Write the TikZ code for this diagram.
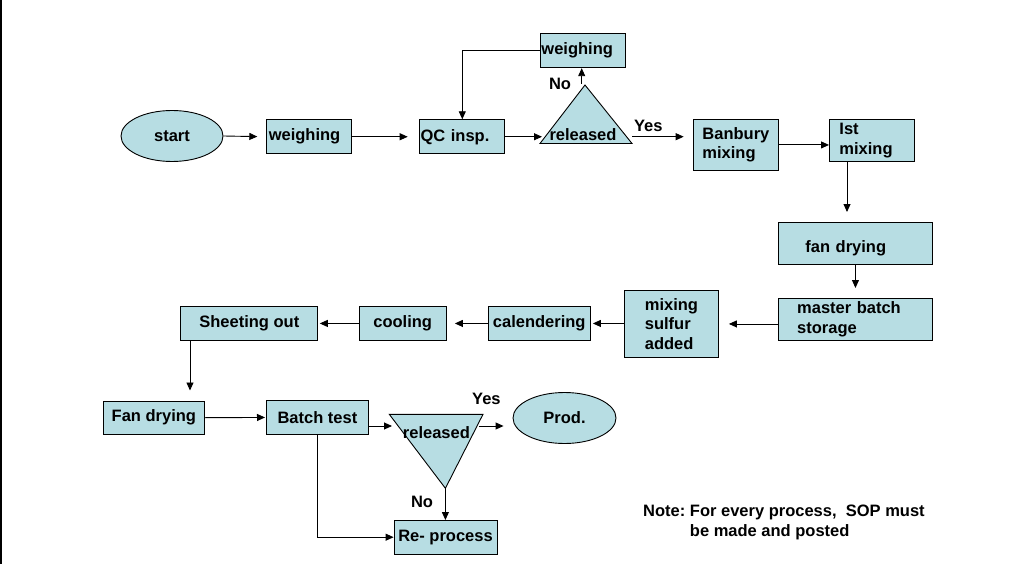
\documentclass[tikz,border=0pt]{standalone}
\usepackage{fontspec}
\setmainfont{Liberation Sans}
\usetikzlibrary{arrows.meta,shapes.geometric}
\definecolor{boxfill}{RGB}{183,221,227}
\begin{document}
\begin{tikzpicture}[x=1pt,y=-1pt,
 font=\fontsize{16.5}{19.5}\selectfont\bfseries,
 pbox/.style={draw=black, line width=0.9pt, fill=boxfill, inner sep=0pt, anchor=north west, align=left},
 oval/.style={ellipse, draw=black, line width=0.9pt, fill=boxfill, inner sep=0pt},
 tri/.style={draw=black, line width=0.9pt, fill=boxfill},
 arr/.style={line width=0.9pt, -{Triangle[length=8pt,width=7pt]}},
 lbl/.style={inner sep=0pt}
]
\useasboundingbox (0,0) rectangle (1024,564);
\fill[white] (0,0) rectangle (1024,564);
\fill[black] (0,0) rectangle (1.6,564);

% top row
\node[oval, minimum width=102pt, minimum height=51pt] (start) at (172,136) {start};
\node[pbox, minimum width=85pt, minimum height=34pt, text width=81pt, inner xsep=2pt] (w1) at (266.3,119.3) {weighing};
\node[pbox, minimum width=84.7pt, minimum height=34pt, text width=82.7pt, inner xsep=1pt] (qc) at (419.2,119.3) {QC insp.};
\node[pbox, minimum width=85pt, minimum height=34pt, text width=82pt, inner xsep=1.5pt] (wtop) at (539.5,33.3) {weighing};
\node[pbox, minimum width=85.5pt, minimum height=51pt] (banbury) at (692.7,119) {Banbury\\mixing};
\node[pbox, minimum width=85pt, minimum height=42pt, text width=65pt, inner xsep=10pt] (ist) at (829,119) {Ist\\mixing};

% triangle 1
\coordinate (t1a) at (585,85);
\coordinate (t1l) at (540,143.5);
\coordinate (t1r) at (632,143.5);
\filldraw[tri] (t1a) -- (t1r) -- (t1l) -- cycle;
\node[lbl] (rel1) at (583,135) {released};
\node[lbl] (no1) at (560,84) {No};
\node[lbl] (yes1) at (648.3,126) {Yes};

% right column
\node[pbox, minimum width=154pt, minimum height=42pt, text width=100pt, inner xsep=27pt, text height=20pt, text depth=2pt] (fan) at (778,222) {fan drying};
\node[pbox, minimum width=154pt, minimum height=42pt, text width=116.6pt, inner xsep=18.7pt] (master) at (778,298) {master batch\\storage};

% middle row
\node[pbox, minimum width=94pt, minimum height=67pt] (mixing) at (624,290) {mixing\\sulfur\\added};
\node[pbox, minimum width=102.5pt, minimum height=34pt] (cal) at (487.5,306) {calendering};
\node[pbox, minimum width=86.5pt, minimum height=34pt] (cool) at (359,306) {cooling};
\node[pbox, minimum width=137pt, minimum height=34pt] (sheet) at (180.4,306) {Sheeting out};

% bottom row
\node[pbox, minimum width=100.5pt, minimum height=33.5pt] (fan2) at (103.2,400.5) {Fan drying};
\node[pbox, minimum width=102pt, minimum height=34pt] (batch) at (266,400) {Batch test};
\node[pbox, minimum width=103pt, minimum height=33.5pt] (re) at (393.6,520) {Re- process};
\node[oval, minimum width=103pt, minimum height=51pt] (prod) at (564.5,418) {Prod.};

% triangle 2
\coordinate (t2l) at (389.3,414.3);
\coordinate (t2r) at (483,414.3);
\coordinate (t2b) at (445.4,488.3);
\filldraw[tri] (t2l) -- (t2r) -- (t2b) -- cycle;
\node[lbl] (rel2) at (436.4,433) {released};
\node[lbl] (yes2) at (486.4,399.3) {Yes};
\node[lbl] (no2) at (422,501.7) {No};

% note
\node[lbl, anchor=west] (note) at (643,522) {\fontsize{16.5}{20}\selectfont\bfseries\begin{tabular}{@{}l@{\ }l@{}}Note: & For every process,\ \ SOP must\\ & be made and posted\end{tabular}};

% connectors
\coordinate (t1in) at (542,136.5);
\coordinate (t1out) at (632,136.7);
\coordinate (t1top) at (581.7,84);
\coordinate (loopx) at (462.3,0);
\coordinate (c1) at (847,0);
\coordinate (c4) at (190,0);
\coordinate (t2in) at (392,426);
\coordinate (t2out) at (479,426);

\draw[arr, shorten >=9pt] (start.east) -- (w1.west);
\draw[arr, shorten >=11.5pt] (w1.east) -- (qc.west);
\draw[arr] (qc.east) -- (qc.east -| t1in);
\draw[arr, shorten >=9pt] (t1out) -- (t1out -| banbury.west);
\draw[arr] (t1top) -- (t1top |- wtop.south);
\draw[arr] (wtop.west) -| (loopx |- qc.north);
\draw[arr] (banbury.east) -- (banbury.east -| ist.west);
\draw[arr, shorten >=10pt] (ist.south -| c1) -- (fan.north -| c1);
\draw[arr, shorten >=10pt] (fan.south) -- (master.north);
\draw[arr, shorten >=10pt] (master.west |- mixing.east) -- (mixing.east);
\draw[arr, shorten >=2pt] (mixing.west |- cal.east) -- (cal.east);
\draw[arr, shorten >=8.5pt] (cal.west) -- (cool.east);
\draw[arr, shorten >=1.5pt] (cool.west) -- (sheet.east);
\draw[arr, shorten >=10pt] (sheet.south -| c4) -- (fan2.north -| c4);
\draw[arr, shorten >=1pt] (fan2.east) -- (batch.west);
\draw[arr] (batch.east |- t2in) -- (t2in);
\draw[arr, shorten >=9pt] (t2out) -- (t2out -| prod.west);
\draw[arr] (t2b) -- (t2b |- re.north);
\draw[arr] (batch.south) |- (re.west);
\end{tikzpicture}
\end{document}
